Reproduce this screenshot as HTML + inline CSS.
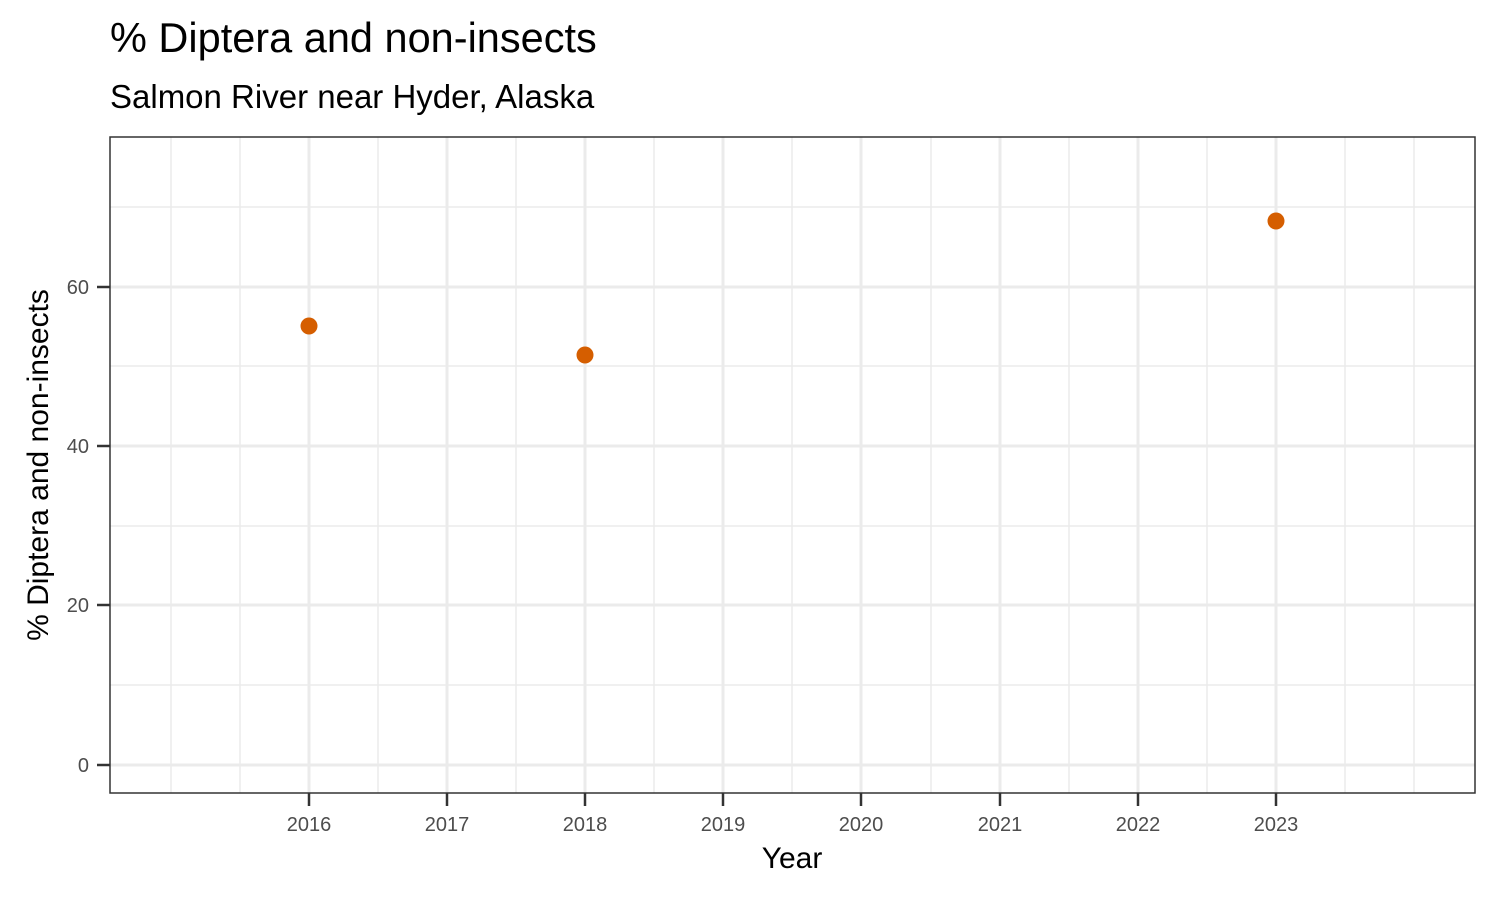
<!DOCTYPE html>
<html><head><meta charset="utf-8"><style>body{margin:0;background:#fff}</style></head>
<body>
<svg width="1500" height="900" xmlns="http://www.w3.org/2000/svg" font-family="Liberation Sans, Arial, sans-serif">
<rect width="1500" height="900" fill="#fff"/>
<text x="110" y="52" font-size="41.5" fill="#000">% Diptera and non-insects</text>
<text x="110" y="108" font-size="33" fill="#000">Salmon River near Hyder, Alaska</text>
<g stroke="#ebebeb" stroke-width="1.5">
<line x1="110" x2="1475" y1="685" y2="685"/><line x1="110" x2="1475" y1="526" y2="526"/>
<line x1="110" x2="1475" y1="366" y2="366"/><line x1="110" x2="1475" y1="207" y2="207"/>
<line y1="137" y2="793" x1="171" x2="171"/><line y1="137" y2="793" x1="240" x2="240"/>
<line y1="137" y2="793" x1="378" x2="378"/><line y1="137" y2="793" x1="516" x2="516"/>
<line y1="137" y2="793" x1="654" x2="654"/><line y1="137" y2="793" x1="792" x2="792"/>
<line y1="137" y2="793" x1="931" x2="931"/><line y1="137" y2="793" x1="1069" x2="1069"/>
<line y1="137" y2="793" x1="1207" x2="1207"/><line y1="137" y2="793" x1="1345" x2="1345"/>
<line y1="137" y2="793" x1="1414" x2="1414"/>
</g>
<g stroke="#ebebeb" stroke-width="3">
<line x1="110" x2="1475" y1="765" y2="765"/><line x1="110" x2="1475" y1="605" y2="605"/>
<line x1="110" x2="1475" y1="446" y2="446"/><line x1="110" x2="1475" y1="287" y2="287"/>
<line y1="137" y2="793" x1="309" x2="309"/><line y1="137" y2="793" x1="447" x2="447"/>
<line y1="137" y2="793" x1="585" x2="585"/><line y1="137" y2="793" x1="723" x2="723"/>
<line y1="137" y2="793" x1="861" x2="861"/><line y1="137" y2="793" x1="1000" x2="1000"/>
<line y1="137" y2="793" x1="1138" x2="1138"/><line y1="137" y2="793" x1="1276" x2="1276"/>
</g>
<rect x="110" y="137" width="1365" height="656" fill="none" stroke="#333" stroke-width="1.5"/>
<g stroke="#333" stroke-width="2.5">
<line x1="97" x2="110" y1="765" y2="765"/><line x1="97" x2="110" y1="605" y2="605"/>
<line x1="97" x2="110" y1="446" y2="446"/><line x1="97" x2="110" y1="287" y2="287"/>
<line y1="793" y2="806" x1="309" x2="309"/><line y1="793" y2="806" x1="447" x2="447"/>
<line y1="793" y2="806" x1="585" x2="585"/><line y1="793" y2="806" x1="723" x2="723"/>
<line y1="793" y2="806" x1="861" x2="861"/><line y1="793" y2="806" x1="1000" x2="1000"/>
<line y1="793" y2="806" x1="1138" x2="1138"/><line y1="793" y2="806" x1="1276" x2="1276"/>
</g>
<g font-size="20" fill="#4d4d4d" text-anchor="end">
<text x="89" y="772">0</text><text x="89" y="612">20</text><text x="89" y="453">40</text><text x="89" y="294">60</text>
</g>
<g font-size="20" fill="#4d4d4d" text-anchor="middle">
<text x="309" y="831">2016</text><text x="447" y="831">2017</text><text x="585" y="831">2018</text>
<text x="723" y="831">2019</text><text x="861" y="831">2020</text><text x="1000" y="831">2021</text>
<text x="1138" y="831">2022</text><text x="1276" y="831">2023</text>
</g>
<text x="792" y="868" font-size="30" text-anchor="middle" fill="#000">Year</text>
<text transform="translate(48,465) rotate(-90)" font-size="30" text-anchor="middle" fill="#000">% Diptera and non-insects</text>
<g fill="#D55E00">
<circle cx="309" cy="326" r="8.5"/><circle cx="585" cy="355" r="8.5"/><circle cx="1276" cy="221" r="8.5"/>
</g>
</svg>
</body></html>
